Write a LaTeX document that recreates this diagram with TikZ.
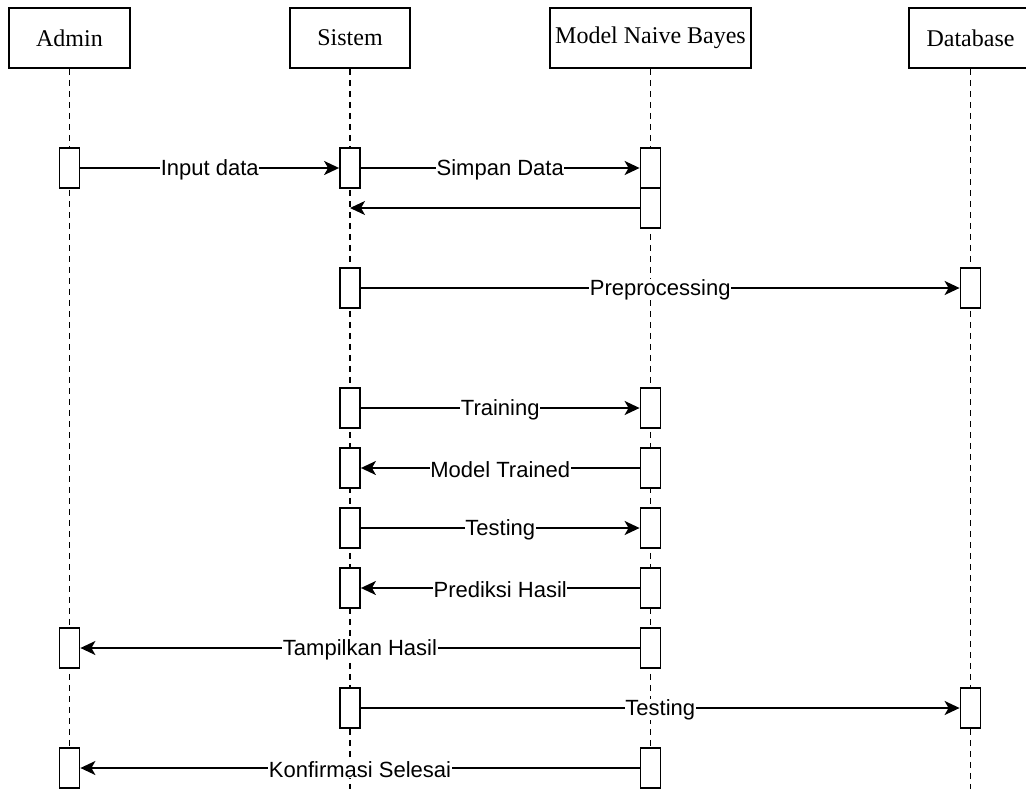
\documentclass[tikz,border=0pt]{standalone}
\usepackage{fontspec}
\setmainfont{Liberation Serif}
\newfontfamily\lblfont{Liberation Sans}
\usetikzlibrary{arrows.meta}
\begin{document}
\begin{tikzpicture}[x=1pt,y=-1pt,
  header/.style={draw,line width=1.8pt,minimum height=60pt,inner sep=0pt,font=\fontsize{24}{28}\selectfont},
  lifeline/.style={dash pattern=on 6pt off 5pt,line width=1.8pt},
  actbar/.style={draw,fill=white,line width=1.8pt,minimum width=20pt,minimum height=40pt,inner sep=0pt},
  msg/.style={line width=1.8pt,-{Stealth[length=15pt,width=14pt,inset=4pt]}},
  lbl/.style={fill=white,inner sep=0.5pt,yshift=-1.5pt,font=\lblfont\fontsize{22}{24}\selectfont}]
\useasboundingbox (0,0) rectangle (1026,789);
% headers
\node[header,minimum width=121pt] (admin) at (69.5,38) {Admin};
\node[header,minimum width=120pt] (sistem) at (350,38) {Sistem};
\node[header,minimum width=201pt] (model) at (650.5,38) {Model Naive Bayes};
\node[header,minimum width=123pt] (db) at (970.5,38) {Database};
% lifelines
\coordinate (adminEnd) at (69.5,792);
\coordinate (sistemEnd) at (350,792);
\coordinate (modelEnd) at (650.5,792);
\coordinate (dbEnd) at (970.5,792);
\draw[lifeline] (admin.south) -- (adminEnd);
\draw[lifeline] (sistem.south) -- (sistemEnd);
\draw[lifeline] (model.south) -- (modelEnd);
\draw[lifeline] (db.south) -- (dbEnd);
% activation bars
\node[actbar] (a1) at (69.5,168) {};
\node[actbar] (s1) at (350,168) {};
\node[actbar] (m1) at (650.5,168) {};
\node[actbar] (m2) at (650.5,208) {};
\coordinate (s1r) at (350,208);
\node[actbar] (s2) at (350,288) {};
\node[actbar] (d1) at (970.5,288) {};
\node[actbar] (s3) at (350,408) {};
\node[actbar] (m3) at (650.5,408) {};
\node[actbar] (s4) at (350,468) {};
\node[actbar] (m4) at (650.5,468) {};
\node[actbar] (s5) at (350,528) {};
\node[actbar] (m5) at (650.5,528) {};
\node[actbar] (s6) at (350,588) {};
\node[actbar] (m6) at (650.5,588) {};
\node[actbar] (a2) at (69.5,648) {};
\node[actbar] (m7) at (650.5,648) {};
\node[actbar] (s7) at (350,708) {};
\node[actbar] (d2) at (970.5,708) {};
\node[actbar] (a3) at (69.5,768) {};
\node[actbar] (m8) at (650.5,768) {};
% messages
\draw[msg] (a1.east) -- node[lbl] {Input data} (s1.west);
\draw[msg] (s1.east) -- node[lbl] {Simpan Data} (m1.west);
\draw[msg] (m2.west) -- (s1r);
\draw[msg] (s2.east) -- node[lbl] {Preprocessing} (d1.west);
\draw[msg] (s3.east) -- node[lbl] {Training} (m3.west);
\draw[msg] (m4.west) -- node[lbl] {Model Trained} (s4.east);
\draw[msg] (s5.east) -- node[lbl] {Testing} (m5.west);
\draw[msg] (m6.west) -- node[lbl] {Prediksi Hasil} (s6.east);
\draw[msg] (m7.west) -- node[lbl] {Tampilkan Hasil} (a2.east);
\draw[msg] (s7.east) -- node[lbl] {Testing} (d2.west);
\draw[msg] (m8.west) -- node[lbl] {Konfirmasi Selesai} (a3.east);
\end{tikzpicture}
\end{document}
